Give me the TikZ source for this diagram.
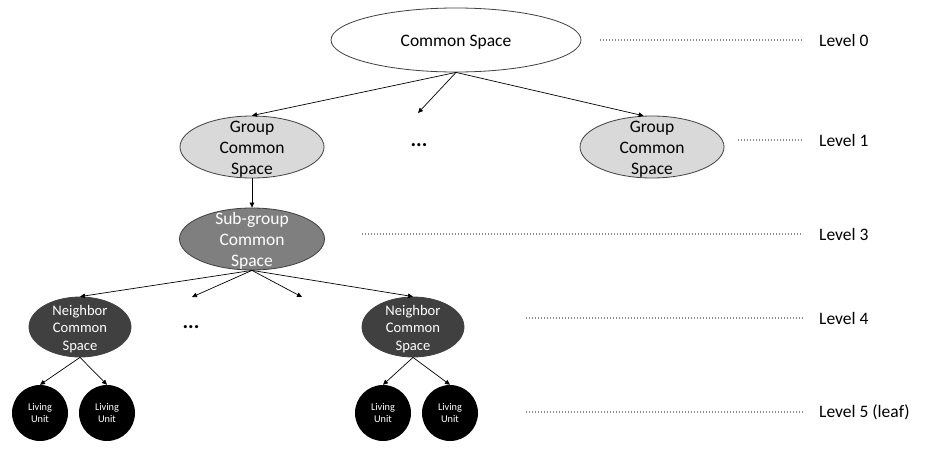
\documentclass[tikz,border=0pt]{standalone}
\usepackage{fontspec}
\setmainfont{Carlito}
\usetikzlibrary{shapes.geometric,arrows.meta}
\definecolor{grp}{HTML}{D9D9D9}
\definecolor{sub}{HTML}{7F7F7F}
\definecolor{nbr}{HTML}{404040}
\begin{document}
\begin{tikzpicture}[x=1pt,y=-1pt,>={Triangle[length=5pt,width=4.5pt]},
	space/.style={ellipse,draw=black!75,line width=0.8pt,inner sep=0pt},
	unit/.style={circle,fill=black,minimum size=56pt,inner sep=0pt},
	link/.style={->,line width=0.7pt},
	lvl/.style={black!45,line width=1.4pt,dash pattern=on 1.4pt off 1.6pt},
	big/.style={font=\fontsize{17.5}{21}\selectfont,align=center},
	mid/.style={font=\fontsize{14.6}{17.5}\selectfont,align=center,text=white},
	small/.style={font=\fontsize{10.3}{12.7}\selectfont,align=center,text=white},
	low/.style={yshift=-2pt},
	more/.style={font=\fontsize{21}{21}\bfseries}]
	\useasboundingbox (0,0) rectangle (928,455);
	% tree
	\node[space,fill=white,minimum width=250pt,minimum height=64pt] (cs) at (456,40) {};
	\node[big,low] (cst) at (cs) {Common Space};
	\node[space,fill=grp,minimum width=144pt,minimum height=62pt] (g1) at (252,147) {};
	\node[big,low] (g1t) at (g1) {Group\\Common\\Space};
	\node[space,fill=grp,minimum width=144pt,minimum height=62pt] (g2) at (652,147) {};
	\node[big,low] (g2t) at (g2) {Group\\Common\\Space};
	\node[more] (dots1) at (419,145) {...};
	\node[space,fill=sub,minimum width=145pt,minimum height=62pt] (sg) at (252,239) {};
	\node[big,low,text=white] (sgt) at (sg) {Sub-group\\Common\\Space};
	\node[space,fill=nbr,minimum width=102pt,minimum height=60pt] (n1) at (80,327) {};
	\node[mid,low] (n1t) at (n1) {Neighbor\\Common\\Space};
	\node[space,fill=nbr,minimum width=102pt,minimum height=60pt] (n2) at (413,327) {};
	\node[mid,low] (n2t) at (n2) {Neighbor\\Common\\Space};
	\node[more] (dots2) at (191,327) {...};
	\foreach \n/\x in {u1/40,u2/107,u3/383,u4/450}
		\node[unit,small] (\n) at (\x,413) {Living\\Unit};
	% arrows
	\coordinate (c1) at (418,113);
	\coordinate (c2) at (192,297);
	\coordinate (c3) at (302,297);
	\draw[link] (cs.south) -- (g1.north);
	\draw[link] (cs.south) -- (c1);
	\draw[link] (cs.south) -- (g2.105);
	\draw[link] (g1) -- (sg);
	\draw[link] (sg.south) -- (n1.north);
	\draw[link] (sg.south) -- (c2);
	\draw[link] (sg.south) -- (c3);
	\draw[link] (sg.south) -- (n2.north);
	\draw[link] (n1.south) -- (u1.north);
	\draw[link] (n1.south) -- (u2.north);
	\draw[link] (n2.south) -- (u3.north);
	\draw[link] (n2.south) -- (u4.north);
	% levels
	\foreach \y/\xa/\t [count=\i] in {40/600/Level 0,140/738/Level 1,234/362/Level 3,318/526/Level 4,412/526/Level 5 (leaf)}{
		\node[big,anchor=west,inner sep=0pt,inner xsep=16pt] (lv\i) at (803,\y) {\t};
		\coordinate (s\i) at (\xa,\y);
		\draw[lvl] (s\i) -- (lv\i.west);
	}
\end{tikzpicture}
\end{document}
